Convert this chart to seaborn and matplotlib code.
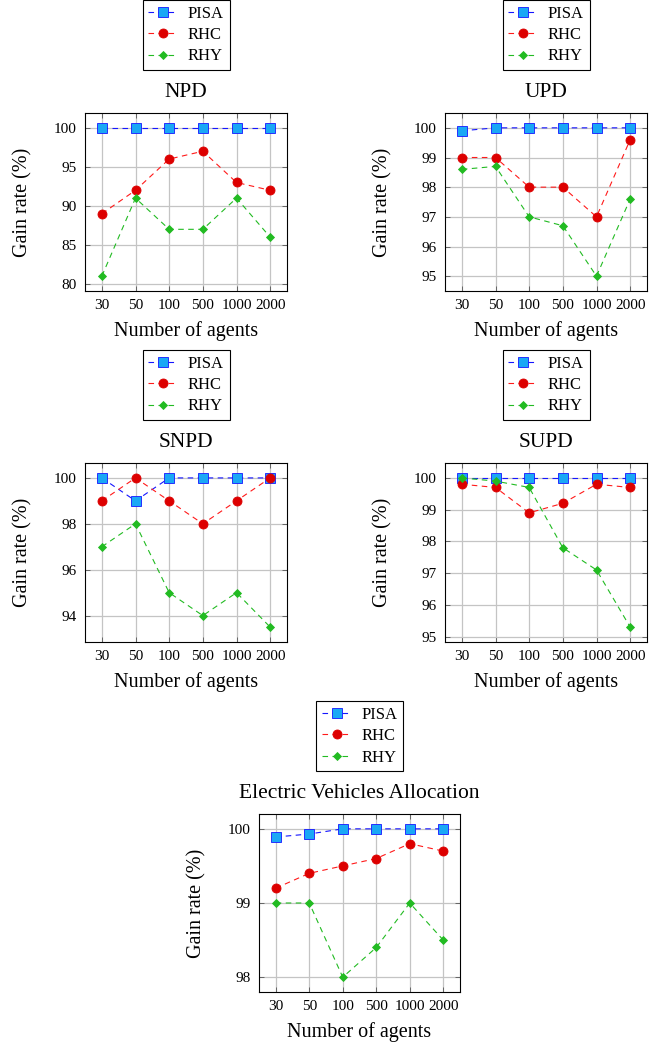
import matplotlib
matplotlib.use("Agg")
import matplotlib.pyplot as plt
import seaborn as sns
import pandas as pd

agents = ["30", "50", "100", "500", "1000", "2000"]
methods = ["PISA", "RHC", "RHY"]

npd_pisa = [100, 100, 100, 100, 100, 100]
npd_rhc = [89, 92, 96, 97, 93, 92]
npd_rhy = [81, 91, 87, 87, 91, 86]

upd_pisa = [99.9, 100, 100, 100, 100, 100]
upd_rhc = [99, 99, 98, 98, 97, 99.6]
upd_rhy = [98.6, 98.7, 97, 96.7, 95, 97.6]

snpd_pisa = [100, 99, 100, 100, 100, 100]
snpd_rhc = [99, 100, 99, 98, 99, 100]
snpd_rhy = [97, 98, 95, 94, 95, 93.5]

supd_pisa = [100, 100, 100, 100, 100, 100]
supd_rhc = [99.8, 99.7, 98.9, 99.2, 99.8, 99.7]
supd_rhy = [100, 99.9, 99.7, 97.8, 97.1, 95.3]

ev_pisa = [99.89, 99.93, 100, 100, 100, 100]
ev_rhc = [99.2, 99.4, 99.5, 99.6, 99.8, 99.7]
ev_rhy = [99, 99, 98, 98.4, 99, 98.5]

titles = ["NPD", "UPD", "SNPD", "SUPD", "Electric Vehicles Allocation"]
panel_data = [
    (npd_pisa, npd_rhc, npd_rhy),
    (upd_pisa, upd_rhc, upd_rhy),
    (snpd_pisa, snpd_rhc, snpd_rhy),
    (supd_pisa, supd_rhc, supd_rhy),
    (ev_pisa, ev_rhc, ev_rhy),
]
yticks = [
    [80, 85, 90, 95, 100],
    [95, 96, 97, 98, 99, 100],
    [94, 96, 98, 100],
    [95, 96, 97, 98, 99, 100],
    [98, 99, 100],
]

sns.set_theme(style="white")
plt.rcParams["font.family"] = ["Liberation Serif", "DejaVu Serif"]
plt.rcParams["text.color"] = "black"
plt.rcParams["axes.labelcolor"] = "black"
plt.rcParams["xtick.color"] = "black"
plt.rcParams["ytick.color"] = "black"

W, H = 668, 1048
fig = plt.figure(figsize=(W / 100, H / 100), dpi=100)

# axes boxes in pixels: left, top, right, bottom
boxes = [
    (85, 113, 287, 291),
    (445, 113, 647, 291),
    (85, 463, 287, 642),
    (445, 463, 647, 642),
    (259, 814, 460, 992),
]

styles = {
    "PISA": dict(color="#1515FF", marker="s", markersize=6.5, markerfacecolor="#1AA8F5",
                 markeredgecolor="#1515FF", markeredgewidth=0.6),
    "RHC": dict(color="#FF1A1A", marker="o", markersize=6.5, markerfacecolor="#DD0000",
                markeredgecolor="#DD0000", markeredgewidth=0.6),
    "RHY": dict(color="#22BB22", marker="D", markersize=3.6, markerfacecolor="#22BB22",
                markeredgecolor="#22BB22", markeredgewidth=0.6),
}

for i, (box, title, vals, yt) in enumerate(zip(boxes, titles, panel_data, yticks)):
    l, t, r, b = box
    ax = fig.add_axes([l / W, 1 - b / H, (r - l) / W, (b - t) / H])
    for m, v in zip(methods, vals):
        df = pd.DataFrame({"agents": agents, "gain": v})
        sns.lineplot(data=df, x="agents", y="gain", ax=ax, sort=False, label=m,
                     linewidth=0.8, linestyle=(0, (5, 4)), **styles[m])
    allv = [x for s in vals for x in s]
    lo, hi = min(allv), max(allv)
    rng = hi - lo
    ax.set_ylim(lo - 0.1 * rng, hi + 0.1 * rng)
    ax.set_xlim(-0.5, 5.5)
    ax.set_yticks(yt)
    ax.set_yticklabels([str(v) for v in yt])
    ax.grid(True, color="#c4c4c4", linewidth=0.9)
    ax.set_axisbelow(True)
    for s in ax.spines.values():
        s.set_color("black")
        s.set_linewidth(0.8)
    ax.tick_params(axis="both", direction="in", length=3.5, width=0.6, color="#555555",
                   top=True, right=True, bottom=True, left=True,
                   labelsize=11, pad=6, labelcolor="black")
    ax.set_xlabel("Number of agents", fontsize=14.5, color="black")
    ax.set_ylabel("Gain rate (%)", fontsize=14.5, color="black")
    ax.xaxis.set_label_coords(0.5, -0.17)
    ax.yaxis.set_label_coords(-0.26, 0.5)
    ax.set_title(title, fontsize=15.5, pad=11.5, color="black")
    leg = ax.legend(loc="lower center", bbox_to_anchor=(0.5, 1 + 43 / (b - t)),
                    fontsize=12, frameon=True, fancybox=False, edgecolor="black",
                    framealpha=1, handlelength=1.8, handletextpad=0.6,
                    labelspacing=0.32, borderpad=0.33, borderaxespad=0)
    leg.get_frame().set_linewidth(0.8)
    for txt in leg.get_texts():
        txt.set_color("black")

fig.savefig("out.png", dpi=100)
